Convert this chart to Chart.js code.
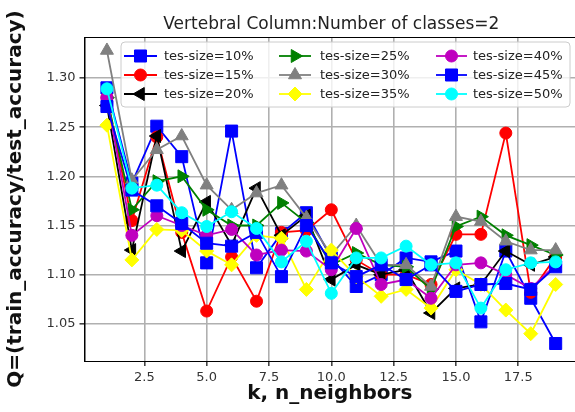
<!DOCTYPE html>
<html>
<head>
<meta charset="utf-8">
<script src="https://cdn.jsdelivr.net/npm/chart.js@4.4.1/dist/chart.umd.min.js"></script>
<style>
  body { margin: 0; background: #fff; }
</style>
</head>
<body>
<canvas id="myChart" width="575" height="412"></canvas>
<script>
// trục x: số láng giềng k
var kValues = [1, 2, 3, 4, 5, 6, 7, 8, 9, 10, 11, 12, 13, 14, 15, 16, 17, 18, 19];
var xTicks = [2.5, 5.0, 7.5, 10.0, 12.5, 15.0, 17.5];
var yTicks = [1.05, 1.10, 1.15, 1.20, 1.25, 1.30];
var seriesLabels = ['tes-size=10%', 'tes-size=15%', 'tes-size=20%', 'tes-size=25%', 'tes-size=30%',
                    'tes-size=35%', 'tes-size=40%', 'tes-size=45%', 'tes-size=50%'];

// Q = train_accuracy / test_accuracy
var size10 = [1.290, 1.193, 1.251, 1.220, 1.112, 1.246, 1.107, 1.142, 1.163, 1.117, 1.088, 1.100, 1.117, 1.113, 1.124, 1.052, 1.124, 1.076, 1.030];
var size15 = [1.280, 1.155, 1.240, 1.143, 1.063, 1.118, 1.073, 1.143, 1.145, 1.166, 1.115, 1.100, 1.100, 1.090, 1.141, 1.141, 1.244, 1.082, 1.118];
var size20 = [1.272, 1.125, 1.241, 1.124, 1.174, 1.130, 1.188, 1.140, 1.160, 1.095, 1.110, 1.100, 1.105, 1.061, 1.086, 1.090, 1.124, 1.110, 1.118];
var size25 = [1.280, 1.166, 1.195, 1.200, 1.166, 1.150, 1.150, 1.173, 1.153, 1.110, 1.122, 1.110, 1.108, 1.085, 1.149, 1.159, 1.140, 1.130, 1.120];
var size30 = [1.328, 1.196, 1.227, 1.241, 1.191, 1.166, 1.183, 1.191, 1.158, 1.120, 1.150, 1.110, 1.110, 1.088, 1.159, 1.154, 1.134, 1.125, 1.125];
var size35 = [1.252, 1.115, 1.146, 1.145, 1.124, 1.110, 1.140, 1.137, 1.085, 1.125, 1.098, 1.078, 1.085, 1.066, 1.105, 1.090, 1.064, 1.040, 1.090];
var size40 = [1.280, 1.140, 1.160, 1.150, 1.140, 1.146, 1.120, 1.125, 1.124, 1.105, 1.147, 1.090, 1.095, 1.076, 1.110, 1.112, 1.100, 1.086, 1.110];
var size45 = [1.271, 1.186, 1.170, 1.152, 1.132, 1.129, 1.143, 1.098, 1.150, 1.112, 1.098, 1.110, 1.095, 1.110, 1.083, 1.090, 1.091, 1.085, 1.108];
var size50 = [1.289, 1.188, 1.191, 1.163, 1.149, 1.164, 1.147, 1.113, 1.134, 1.081, 1.117, 1.117, 1.129, 1.110, 1.112, 1.066, 1.105, 1.112, 1.113];

var allSeries = [size10, size15, size20, size25, size30, size35, size40, size45, size50];
var colors = ['#0000ff', '#ff0000', '#000000', '#008000', '#808080', '#ffff00', '#bf00bf', '#0000ff', '#00ffff'];
var styles = ['rect', 'circle', 'triangle', 'triangle', 'triangle', 'rectRot', 'circle', 'rect', 'circle'];
var rotations = [0, 0, 270, 90, 0, 0, 0, 0, 0];
var radii = [8.5, 6, 7.5, 7.5, 7.5, 7, 6, 8.5, 6];

var datasets = [];
for (var i = 0; i < allSeries.length; i++) {
    var pts = [];
    for (var j = 0; j < kValues.length; j++) {
        pts.push({ x: kValues[j], y: allSeries[i][j] });
    }
    datasets.push({
        label: seriesLabels[i],
        data: pts,
        borderColor: colors[i],
        backgroundColor: colors[i],
        pointBackgroundColor: colors[i],
        pointBorderColor: colors[i],
        pointStyle: styles[i],
        rotation: rotations[i],
        pointRadius: radii[i],
        pointBorderWidth: 1,
        borderWidth: 1.8,
        tension: 0,
        order: allSeries.length - i   // series sau vẽ đè lên
    });
}

// tiêu đề, khung và chú thích kiểu matplotlib
var framePlugin = {
    id: 'frame',
    beforeDraw: function (chart) {
        var ctx = chart.ctx;
        ctx.save();
        ctx.fillStyle = '#fff';
        ctx.fillRect(0, 0, chart.width, chart.height);
        ctx.restore();
    },
    afterDatasetsDraw: function (chart) {
        var ctx = chart.ctx;
        var a = chart.chartArea;
        ctx.save();
        // khung
        ctx.strokeStyle = '#000';
        ctx.lineWidth = 1;
        ctx.strokeRect(a.left + 0.5, a.top + 0.5, a.right - a.left, a.bottom - a.top);

        // tiêu đề (căn theo khung đầy đủ x = 0.1 .. 19.9)
        var cx = (a.left + chart.scales.x.getPixelForValue(19.9)) / 2;
        ctx.fillStyle = '#222';
        ctx.font = '17px "DejaVu Sans"';
        ctx.textAlign = 'center';
        ctx.textBaseline = 'alphabetic';
        ctx.fillText('Vertebral Column:Number of classes=2', cx, 29);

        // hộp chú thích 3 cột
        var bx = 121, by = 42, bw = 449, bh = 65;
        ctx.beginPath();
        ctx.roundRect(bx, by, bw, bh, 4);
        ctx.fillStyle = 'rgba(255,255,255,0.8)';
        ctx.fill();
        ctx.strokeStyle = '#cccccc';
        ctx.stroke();

        var cols = [[124, 157, 164], [279, 311, 320], [436, 467, 473]];
        var rows = [56, 75, 94];
        var ds = chart.data.datasets;
        ctx.font = '13px "DejaVu Sans"';
        ctx.textAlign = 'left';
        ctx.textBaseline = 'middle';
        for (var n = 0; n < ds.length; n++) {
            var c = cols[Math.floor(n / 3)];
            var y = rows[n % 3];
            ctx.strokeStyle = ds[n].borderColor;
            ctx.lineWidth = 1.8;
            ctx.beginPath();
            ctx.moveTo(c[0], y);
            ctx.lineTo(c[1], y);
            ctx.stroke();
            ctx.fillStyle = ds[n].backgroundColor;
            ctx.lineWidth = 1;
            Chart.helpers.drawPoint(ctx, {
                pointStyle: ds[n].pointStyle,
                rotation: ds[n].rotation,
                radius: ds[n].pointRadius,
                borderWidth: 1
            }, (c[0] + c[1]) / 2, y);
            ctx.fillStyle = '#222';
            ctx.fillText(ds[n].label, c[2], y + 1);
        }
        ctx.restore();
    }
};

var ctx = document.getElementById('myChart').getContext('2d');
var chart = new Chart(ctx, {
    type: 'line',
    data: { datasets: datasets },
    options: {
        responsive: false,
        animation: false,
        devicePixelRatio: 1,
        layout: { autoPadding: false, padding: { top: 37, right: 0, bottom: 0, left: 0 } },
        plugins: {
            legend: { display: false },
            tooltip: { enabled: false }
        },
        scales: {
            x: {
                type: 'linear',
                min: 0.1,
                max: 19.775,
                afterBuildTicks: function (axis) {
                    axis.ticks = xTicks.map(function (v) { return { value: v }; });
                },
                afterFit: function (axis) {
                    axis.height = 51;
                    axis.paddingLeft = 0;
                    axis.paddingRight = 0;
                },
                ticks: {
                    color: '#333',
                    font: { family: 'DejaVu Sans', size: 13 },
                    padding: 4,
                    maxRotation: 0,
                    callback: function (v) { return v.toFixed(1); }
                },
                grid: { color: '#b0b0b0', lineWidth: 1.6, tickLength: 5, tickColor: '#444' },
                border: { display: true, color: '#000', width: 1 },
                title: {
                    display: true,
                    text: 'k, n_neighbors',
                    color: '#111',
                    font: { family: 'DejaVu Sans', size: 20, weight: 'bold' },
                    padding: { top: 0, bottom: 6 }
                }
            },
            y: {
                type: 'linear',
                min: 1.0122,
                max: 1.3417,
                afterBuildTicks: function (axis) {
                    axis.ticks = yTicks.map(function (v) { return { value: v }; });
                },
                afterFit: function (axis) {
                    axis.width = 84.5;
                    axis.paddingTop = 0;
                    axis.paddingBottom = 0;
                },
                ticks: {
                    color: '#333',
                    font: { family: 'DejaVu Sans', size: 13 },
                    padding: 4,
                    callback: function (v) { return v.toFixed(2); }
                },
                grid: { color: '#b0b0b0', lineWidth: 1.6, tickLength: 5, tickColor: '#444' },
                border: { display: true, color: '#000', width: 1 },
                title: {
                    display: true,
                    text: 'Q=(train_accuracy/test_accuracy)',
                    color: '#111',
                    font: { family: 'DejaVu Sans', size: 20, weight: 'bold' },
                    padding: { top: 4, bottom: 0 }
                }
            }
        }
    },
    plugins: [framePlugin]
});
</script>
</body>
</html>
